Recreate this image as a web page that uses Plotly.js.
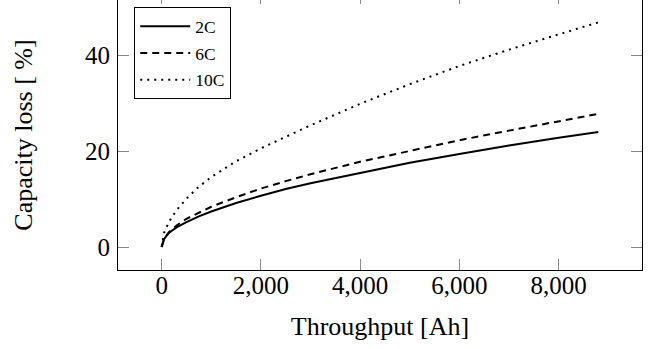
<!DOCTYPE html>
<html>
<head>
<meta charset="utf-8">
<script src="https://cdn.plot.ly/plotly-3.0.1.min.js"></script>
<style>
  html, body { margin: 0; padding: 0; background: #ffffff; }
  #chart { width: 654px; height: 349px; }
</style>
</head>
<body>
<div id="chart"></div>
<script>
// Throughput [Ah]
const throughput = [0, 50, 150, 300, 500, 750, 1000, 1500, 2000, 2500, 3000, 4000, 5000, 6000, 7000, 8000, 8800];
// Capacity loss [%]
const loss2C  = [0, 1.7, 3.0, 4.1, 5.2, 6.4, 7.4, 9.2, 10.7, 12.1, 13.3, 15.5, 17.6, 19.4, 21.2, 22.8, 24.0];
const loss6C  = [0, 1.8, 3.15, 4.5, 5.9, 7.2, 8.4, 10.4, 12.2, 13.75, 15.2, 17.8, 20.1, 22.3, 24.3, 26.3, 27.8];
const loss10C = [0, 3.0, 5.3, 7.7, 10.1, 12.6, 14.6, 17.9, 20.6, 23.0, 25.4, 29.9, 34.0, 37.8, 41.2, 44.4, 46.9];
const seriesNames = ['2C', '6C', '10C'];
const xTicks = [0, 2000, 4000, 6000, 8000];
const yTicks = [0, 20, 40];

const FONT = '"Liberation Serif", "Times New Roman", Times, serif';
const TICKCOL = '#8a8a8a';

const traces = [
  {x: throughput, y: loss2C,  name: seriesNames[0], legendgroup: 'a', mode: 'lines',
   line: {color: '#000', width: 2, dash: 'solid'}},
  {x: throughput, y: loss6C,  name: seriesNames[1], legendgroup: 'b', mode: 'lines',
   line: {color: '#000', width: 2, dash: '7px,5px'}},
  {x: throughput, y: loss10C, name: seriesNames[2], legendgroup: 'c', mode: 'lines',
   line: {color: '#000', width: 2, dash: '2px,5px'}},
  {x: [], y: [], xaxis: 'x2', showlegend: false, hoverinfo: 'skip', mode: 'lines'}
];

const layout = {
  width: 654, height: 349,
  margin: {l: 118, r: 12, t: 0, b: 79, pad: 0},
  paper_bgcolor: '#fff', plot_bgcolor: '#fff',
  font: {family: FONT, color: '#000', size: 25},
  showlegend: true,
  legend: {
    x: 0.031, y: 0.973, xanchor: 'left', yanchor: 'top',
    bordercolor: '#000', borderwidth: 1, bgcolor: '#fff',
    font: {family: FONT, size: 17.5, color: '#000'},
    tracegroupgap: 1, itemwidth: 50
  },
  xaxis: {
    range: [-880, 9680], tickvals: xTicks, tickformat: ',d',
    ticks: 'inside', ticklen: 11, tickwidth: 1, tickcolor: TICKCOL,
    showline: true, linecolor: '#000', linewidth: 1, mirror: false,
    showgrid: false, zeroline: false, ticklabelstandoff: -7,
    tickfont: {family: FONT, size: 25},
    title: {text: 'Throughput [Ah]', font: {family: FONT, size: 26}, standoff: 18}
  },
  xaxis2: {
    overlaying: 'x', side: 'top', anchor: 'y', matches: 'x',
    range: [-880, 9680], tickvals: xTicks,
    ticks: 'inside', ticklen: 4, tickwidth: 1, tickcolor: TICKCOL,
    showticklabels: false, showline: false, showgrid: false, zeroline: false
  },
  yaxis: {
    range: [-4.8, 51.57], tickvals: yTicks,
    ticks: 'inside', ticklen: 11, tickwidth: 1, tickcolor: TICKCOL,
    showline: true, linecolor: '#000', linewidth: 1, mirror: 'ticks',
    showgrid: false, zeroline: false, ticklabelstandoff: 2,
    tickfont: {family: FONT, size: 25},
    title: {text: 'Capacity loss [ %]', font: {family: FONT, size: 26}, standoff: 44}
  }
};

Plotly.newPlot('chart', traces, layout, {displayModeBar: false, staticPlot: true});
</script>
</body>
</html>
